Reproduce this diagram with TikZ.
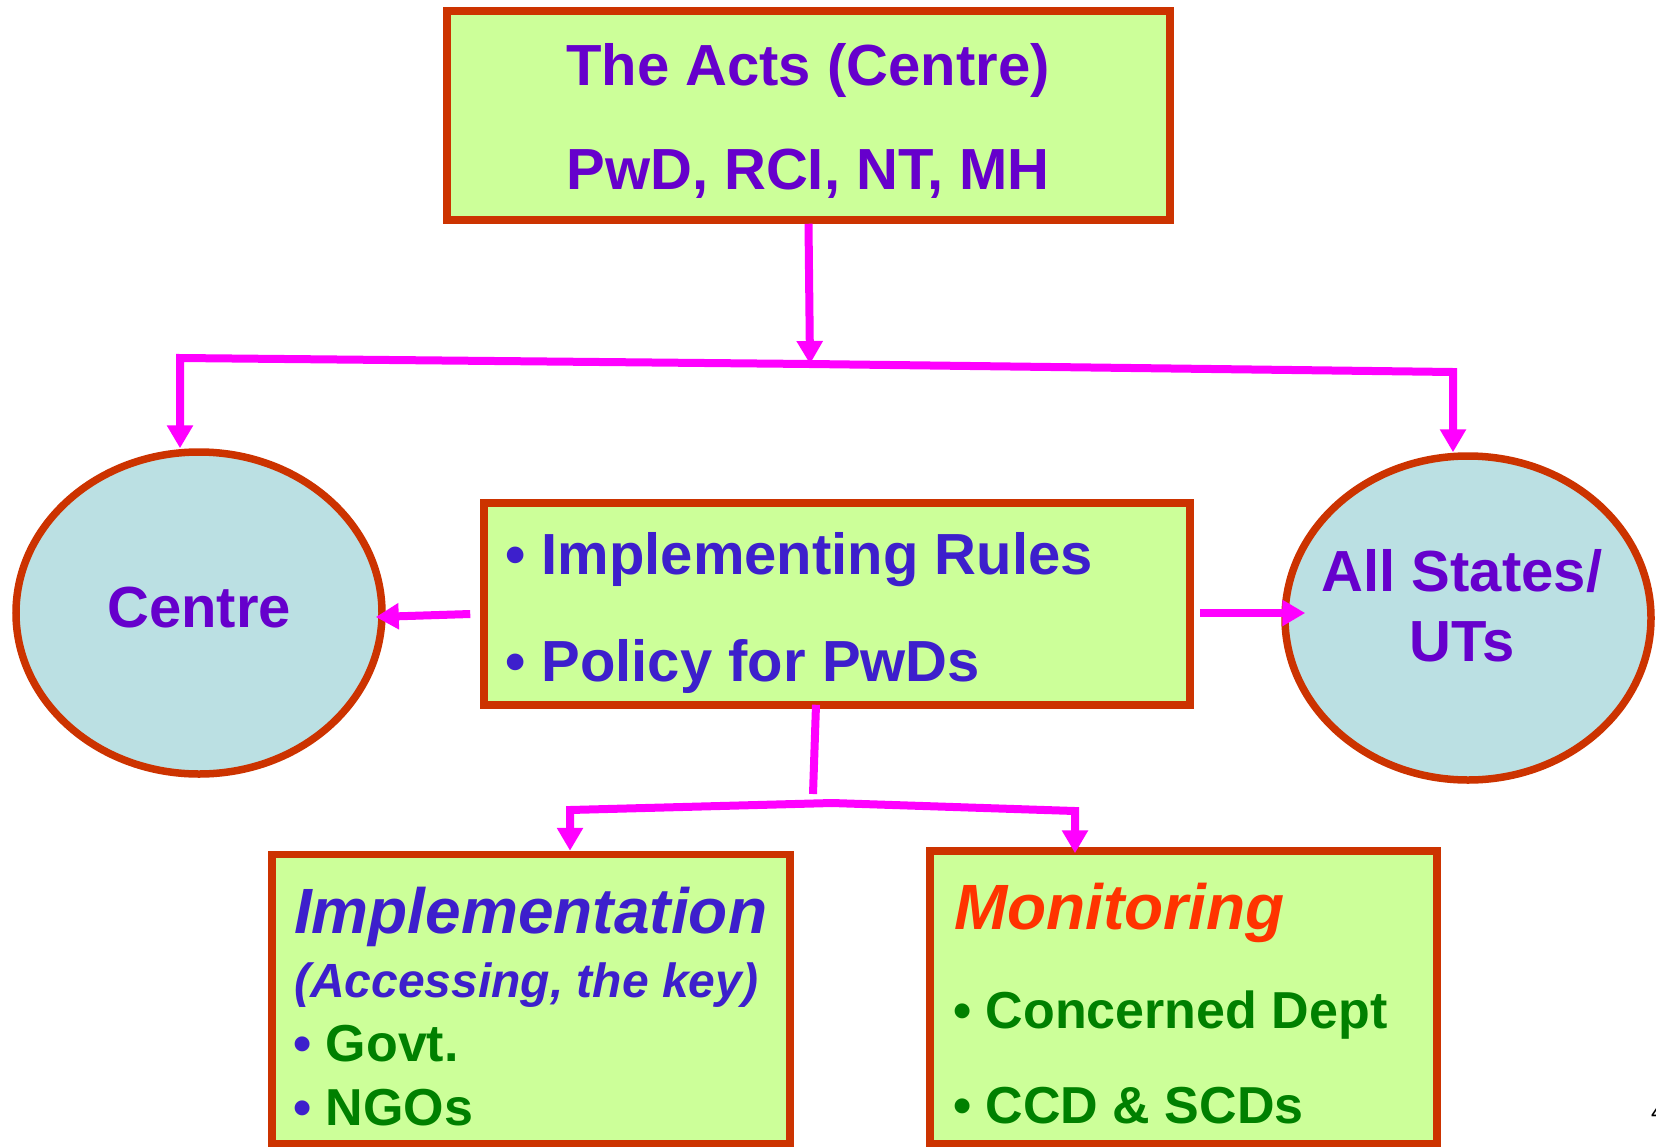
\documentclass[tikz,border=0pt]{standalone}
\usepackage{fontspec}
\setmainfont{Liberation Sans}
\usetikzlibrary{shapes.geometric, arrows.meta, calc}
\definecolor{boxgreen}{HTML}{CCFF99}
\definecolor{ovalblue}{HTML}{BBE0E3}
\definecolor{edgered}{HTML}{CC3300}
\definecolor{linkpink}{HTML}{FF00FF}
\definecolor{textpurple}{HTML}{6600CC}
\definecolor{textblue}{HTML}{3D1FCC}
\definecolor{itemgreen}{HTML}{008000}
\definecolor{alertred}{HTML}{FF3300}
\tikzset{
  actbox/.style={rectangle, draw=edgered, line width=7.5pt, fill=boxgreen, inner sep=0pt},
  oval/.style={ellipse, draw=edgered, line width=7.5pt, fill=ovalblue, inner sep=0pt,
                text=textpurple, font=\fontsize{58}{70}\selectfont\bfseries},
  link/.style={draw=linkpink, line width=8pt},
  arrow/.style={link, -{Triangle[width=25pt,length=23pt]}},
  bigtext/.style={inner sep=0pt, font=\fontsize{58}{70}\selectfont\bfseries},
  headtext/.style={inner sep=0pt, anchor=base west, font=\fontsize{64}{70}\selectfont\bfseries\itshape},
  subtext/.style={inner sep=0pt, anchor=base west, text=textblue, font=\fontsize{48}{56}\selectfont\bfseries\itshape},
  itemtext/.style={inner sep=0pt, anchor=base west, text=itemgreen, font=\fontsize{52}{60}\selectfont\bfseries}
}
\begin{document}
\begin{tikzpicture}[x=1pt, y=-1pt]
  \path[use as bounding box, fill=white] (0,0) rectangle (1656,1146);

  % boxes and ovals
  \node (acts) [actbox, minimum width=723pt, minimum height=209pt] at (808.5,115.5) {};
  \node (centre) [oval, minimum width=366pt, minimum height=322pt, text depth=12pt] at (199,613) {Centre};
  \node (states) [oval, minimum width=366pt, minimum height=324pt] at (1468,618) {};
  \node (rules) [actbox, minimum width=706pt, minimum height=202pt] at (837,604) {};
  \node (impl) [actbox, minimum width=518pt, minimum height=289pt] at (531,999) {};
  \node (mon) [actbox, minimum width=507pt, minimum height=293pt] at (1183.5,997.5) {};

  % texts
  \node (actsTitle) [bigtext, text=textpurple, anchor=base] at (808,85) {The Acts (Centre)};
  \node (actsList) [bigtext, text=textpurple, anchor=base] at (808,189) {PwD, RCI, NT, MH};
  \node (statesA) [bigtext, text=textpurple, anchor=base] at (1462,591) {All States/};
  \node (statesB) [bigtext, text=textpurple, anchor=base] at (1462,661) {UTs};
  \node (rulesA) [bigtext, text=textblue, anchor=base west] at (505,574) {• Implementing Rules};
  \node (rulesB) [bigtext, text=textblue, anchor=base west] at (505,681) {• Policy for PwDs};
  \node (implHead) [headtext, text=textblue] at (294,933) {Implementation};
  \node (implSub) [subtext] at (294,997) {(Accessing, the key)};
  \node (implGovt) [itemtext] at (293,1061) {\textcolor{textblue}{•} Govt.};
  \node (implNgo) [itemtext] at (293,1125) {\textcolor{textblue}{•} NGOs};
  \node (monHead) [headtext, text=alertred] at (954,929) {Monitoring};
  \node (monDept) [itemtext] at (953,1028) {• Concerned Dept};
  \node (monCcd) [itemtext] at (953,1123) {• CCD \& SCDs};
  \node (pageNo) [inner sep=0pt, anchor=base west, font=\fontsize{24}{28}\selectfont] at (1651,1120) {4};

  % connectors
  \coordinate (topJoin) at (810,364);
  \coordinate (leftTurn) at (180,358);
  \coordinate (rightTurn) at (1453,372);
  \coordinate (splitEnd) at (813,794);
  \coordinate (apex) at (832,803);
  \coordinate (lowLeft) at (570,810);
  \coordinate (lowRight) at (1075,811);

  \draw [arrow] (acts.south) -- (topJoin);
  \draw [arrow] (topJoin) -- (leftTurn) -- (leftTurn |- centre.north);
  \draw [arrow] (topJoin) -- (rightTurn) -- (rightTurn |- states.north);
  \draw [arrow] ($(rules.west)+(-10,10)$) -- ($(centre.east)+(-10,4)$);
  \draw [arrow] ($(rules.east)+(6,9)$) -- ($(states.west)+(24,-5)$);
  \draw [link] ($(rules.south)+(-21,-4)$) -- (splitEnd);
  \draw [arrow] (apex) -- (lowLeft) -- (lowLeft |- impl.north);
  \draw [arrow] (apex) -- (lowRight) -- ($(lowRight |- mon.north)+(0,6)$);
\end{tikzpicture}
\end{document}
